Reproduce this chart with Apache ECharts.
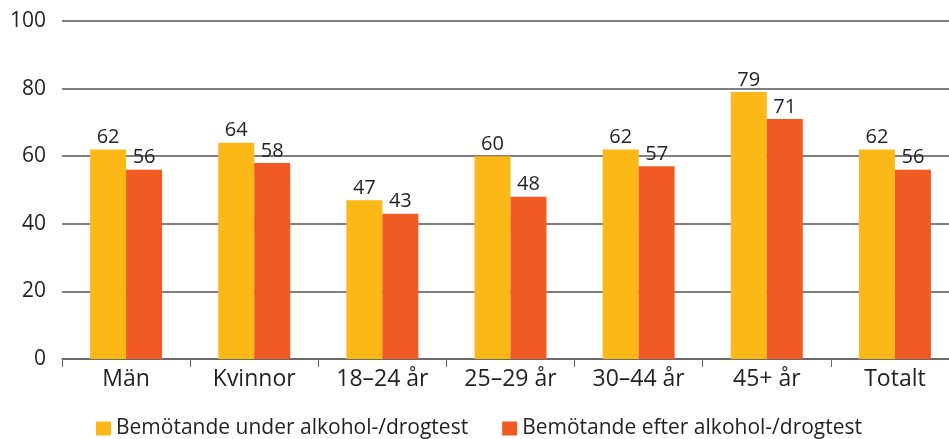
<!DOCTYPE html>
<html>
<head>
<meta charset="utf-8">
<script src="https://cdn.jsdelivr.net/npm/echarts@6/dist/echarts.min.js"></script>
<style>
  html, body { margin: 0; padding: 0; background: #fff; }
  #chart { width: 949px; height: 439px; }
</style>
</head>
<body>
<div id="chart"></div>
<script>
// kategorier och värden (procent)
const categories = ['Män', 'Kvinnor', '18–24 år', '25–29 år', '30–44 år', '45+ år', 'Totalt']
const underTest = [62, 64, 47, 60, 62, 79, 62]
const efterTest = [56, 58, 43, 48, 57, 71, 56]
const seriesNames = ['Bemötande under alkohol-/drogtest', 'Bemötande efter alkohol-/drogtest']

const textColor = '#231f20'
const fontFamily = '"Open Sans", Lato, sans-serif'

const chart = echarts.init(document.getElementById('chart'))
chart.setOption({
  animation: false,
  textStyle: { fontFamily: fontFamily, color: textColor },
  // plotytan går lite utanför högerkanten i originalet
  grid: { left: 62, width: 897, top: 21, bottom: 80, outerBoundsMode: 'none', containLabel: false },
  legend: {
    left: 91,
    top: 413,
    itemWidth: 15,
    itemHeight: 14,
    itemGap: 34,
    icon: 'rect',
    textStyle: { fontSize: 21, color: textColor, fontFamily: fontFamily },
    data: seriesNames,
  },
  xAxis: {
    type: 'category',
    data: categories,
    axisLine: { lineStyle: { color: '#666', width: 1.5 } },
    axisTick: { show: true, length: 8, lineStyle: { color: '#666' } },
    axisLabel: { fontSize: 23, color: textColor, margin: 9 },
  },
  yAxis: {
    type: 'value',
    min: 0,
    max: 100,
    interval: 20,
    axisLine: { show: false },
    axisTick: { show: false },
    axisLabel: { fontSize: 21, color: textColor, margin: 16 },
    splitLine: { lineStyle: { color: '#555', width: 1.5 } },
  },
  series: [
    {
      name: seriesNames[0],
      type: 'bar',
      data: underTest,
      barWidth: 36,
      barGap: '0%',
      itemStyle: { color: '#fbb817' },
      label: { show: true, position: 'top', distance: 2, fontSize: 20, color: textColor },
    },
    {
      name: seriesNames[1],
      type: 'bar',
      data: efterTest,
      barWidth: 36,
      barGap: '0%',
      itemStyle: { color: '#f15a22' },
      label: { show: true, position: 'top', distance: 2, fontSize: 20, color: textColor },
    },
  ],
})
</script>
</body>
</html>
